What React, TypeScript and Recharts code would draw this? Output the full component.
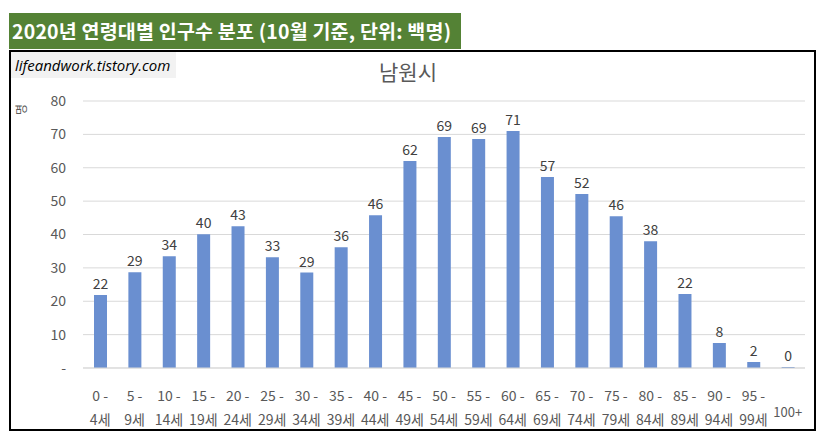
import { BarChart, Bar, XAxis, YAxis, CartesianGrid, LabelList } from 'recharts'

// ─── 데이터 ─────────────────────────────────────────────────────────────
const AGE_FROM = ['0 -', '5 -', '10 -', '15 -', '20 -', '25 -', '30 -', '35 -', '40 -', '45 -', '50 -', '55 -', '60 -', '65 -', '70 -', '75 -', '80 -', '85 -', '90 -', '95 -', '100+']
const AGE_TO = ['4세', '9세', '14세', '19세', '24세', '29세', '34세', '39세', '44세', '49세', '54세', '59세', '64세', '69세', '74세', '79세', '84세', '89세', '94세', '99세', '']
// 단위: 백명 (막대 높이는 그림에서 읽은 값)
const POPULATION = [21.9, 28.7, 33.5, 40.1, 42.5, 33.2, 28.6, 36.2, 45.8, 62, 69.2, 68.6, 71, 57.2, 52.1, 45.5, 38, 22.2, 7.5, 1.8, 0.3]
const Y_TICKS = [0, 10, 20, 30, 40, 50, 60, 70, 80]

const FONT = '"Noto Sans CJK KR", "Noto Sans", sans-serif'

const data = AGE_FROM.map((from, i) => ({ from, to: AGE_TO[i], value: POPULATION[i] }))

function AgeTick({ x, y, payload }: { x?: number; y?: number; payload?: { index: number } }) {
  const i = payload?.index ?? 0
  const from = AGE_FROM[i]
  const to = AGE_TO[i]
  if (!to) {
    return (
      <text x={x} y={(y ?? 0) + 41} textAnchor="middle" fontSize={13} fill="#595959" fontFamily={FONT}>
        {from}
      </text>
    )
  }
  return (
    <g>
      <text x={x} y={(y ?? 0) + 25} textAnchor="middle" fontSize={14} fill="#595959" fontFamily={FONT}>
        {from}
      </text>
      <text x={x} y={(y ?? 0) + 49} textAnchor="middle" fontSize={14} fill="#595959" fontFamily={FONT}>
        {to}
      </text>
    </g>
  )
}

export default function App() {
  return (
    <div style={{ position: 'absolute', left: 0, top: 0, width: 816, height: 441, background: '#fff', fontFamily: FONT }}>
      {/* 상단 제목 띠 */}
      <div
        style={{
          position: 'absolute',
          left: 9,
          top: 13,
          width: 452,
          height: 36,
          background: '#548235',
          color: '#fff',
          fontWeight: 'bold',
          fontSize: 19.5,
          letterSpacing: 0.2,
          lineHeight: '36px',
          paddingLeft: 3,
          boxSizing: 'border-box',
          whiteSpace: 'nowrap',
        }}
      >
        2020년 연령대별 인구수 분포 (10월 기준, 단위: 백명)
      </div>

      {/* 차트 테두리 */}
      <div
        style={{
          position: 'absolute',
          left: 9,
          top: 50,
          width: 807,
          height: 381,
          border: '2px solid #000',
          boxSizing: 'border-box',
        }}
      />

      <div
        style={{
          position: 'absolute',
          left: 11,
          top: 52,
          width: 165,
          height: 26,
          background: '#f2f2f2',
          fontStyle: 'italic',
          fontSize: 15,
          lineHeight: '26px',
          paddingLeft: 4,
          boxSizing: 'border-box',
          color: '#000',
          fontFamily: '"Open Sans", "Noto Sans", sans-serif',
          whiteSpace: 'nowrap',
        }}
      >
        lifeandwork.tistory.com
      </div>

      <div style={{ position: 'absolute', left: 0, width: 816, top: 56, textAlign: 'center', fontSize: 21, color: '#595959' }}>
        남원시
      </div>

      <div
        style={{
          position: 'absolute',
          left: 15,
          top: 101,
          fontSize: 12,
          color: '#595959',
          transform: 'rotate(-90deg)',
        }}
      >
        명
      </div>

      <div style={{ position: 'absolute', left: 10, top: 51 }}>
        <BarChart width={804} height={378} data={data} margin={{ top: 50, right: 9, left: 0, bottom: 0 }}>
          <CartesianGrid vertical={false} stroke="#d9d9d9" />
          <XAxis dataKey="from" tick={<AgeTick />} tickLine={false} axisLine={{ stroke: '#d9d9d9' }} height={61} interval={0} />
          <YAxis
            domain={[0, 80]}
            ticks={Y_TICKS}
            width={73}
            tickLine={false}
            axisLine={false}
            tickSize={0}
            tickMargin={17}
            tick={{ fontSize: 14, fill: '#595959', fontFamily: FONT }}
            tickFormatter={(v: number) => (v === 0 ? '-' : String(v))}
          />
          <Bar dataKey="value" fill="#6a8fd0" isAnimationActive={false} barSize={13}>
            <LabelList
              dataKey="value"
              position="top"
              offset={6}
              fontSize={14}
              fill="#404040"
              fontFamily={FONT}
              formatter={(v: number) => String(Math.round(v))}
            />
          </Bar>
        </BarChart>
      </div>
    </div>
  )
}
